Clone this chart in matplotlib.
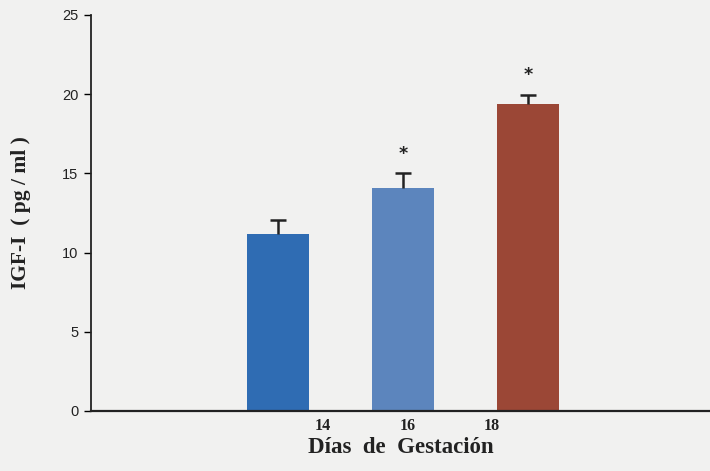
import matplotlib.pyplot as plt
import numpy as np

# values
dias = ['14', '16', '18']
igf = [11.2, 14.1, 19.4]
err = [0.85, 0.9, 0.55]
significant = [False, True, True]
colores = ['#2f6cb3', '#5c85bd', '#9b4736']

# odd label positions in the original (not under the bars)
label_pos = [0.36, 1.04, 1.71]

fig = plt.figure(figsize=(7.1, 4.71), dpi=100)
fig.patch.set_facecolor('#f1f1f0')
ax = fig.add_axes([0.128, 0.1274, 0.872, 0.8408])
ax.set_facecolor('#f1f1f0')

x = np.arange(len(igf))
top = np.array(igf) + np.array(err)
ax.bar(x, igf, width=0.5, color=colores, zorder=2)
# upper half of the error bar only
ax.vlines(x, igf, top, color='#222222', lw=1.8, zorder=3)
ax.plot(x, top, ls='none', marker='_', ms=12, mew=1.8, color='#222222', zorder=3)

for xi, t, s in zip(x, top, significant):
    if s:
        ax.text(xi, t + 1.25, '*', ha='center', va='center',
                fontsize=12.5, fontweight='bold', color='#222222')

ax.set_xlim(-1.496, 3.456)
ax.set_ylim(0, 25)
ax.set_yticks([0, 5, 10, 15, 20, 25])
ax.tick_params(axis='y', direction='out', length=5, width=1, pad=4,
               labelsize=10.5, labelcolor='#222222')
for t in ax.get_yticklabels():
    t.set_family('Liberation Sans')

ax.set_xticks(label_pos)
ax.set_xticklabels(dias, family='Liberation Serif', fontweight='bold',
                   fontsize=11.5, color='#222222')
ax.tick_params(axis='x', length=0, pad=5)

ax.spines['top'].set_visible(False)
ax.spines['right'].set_visible(False)
ax.spines['left'].set_linewidth(1.3)
ax.spines['bottom'].set_linewidth(1.6)
ax.spines['left'].set_color('#222222')
ax.spines['bottom'].set_color('#222222')

ax.set_xlabel('Días  de  Gestación', family='Liberation Serif', fontweight='bold',
              fontsize=16.5, color='#222222', labelpad=2)
ax.set_ylabel('IGF-I  ( pg / ml )', family='Liberation Serif', fontweight='bold',
              fontsize=15.5, color='#222222', labelpad=22)

fig.savefig('out.png', dpi=100, facecolor=fig.get_facecolor())
